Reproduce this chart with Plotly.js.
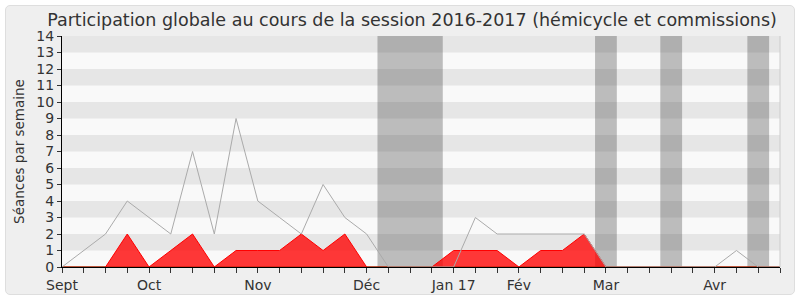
<!DOCTYPE html>
<html>
<head>
<meta charset="utf-8">
<script src="https://cdn.plot.ly/plotly-3.0.1.min.js"></script>
<style>
  html, body { margin: 0; padding: 0; background: #ffffff; }
  #frame {
    position: absolute; left: 5px; top: 5px;
    width: 788px; height: 288px;
    border: 1px solid #dedede; border-radius: 5px;
    background: #efefef; overflow: hidden;
  }
  #chart { width: 788px; height: 288px; }
</style>
</head>
<body>
<div id="frame"><div id="chart"></div></div>
<script>
// Week index along the session (weekly points)
const weeks = [0,1,2,3,4,5,6,7,8,9,10,11,12,13,14,15,16,17,18,19,20,21,22,23,24,25,26,27,28,29,30,31,32,33];
// Gray line: overall activity per week
const totalSeances = [0,1,2,4,3,2,7,2,9,4,3,2,5,3,2,0,0,0,0,3,2,2,2,2,2,0,0,0,0,0,0,1,0,0];
// Red area: deputy participation per week
const participation = [0,0,0,2,0,1,2,0,1,1,1,2,1,2,0,0,0,0,1,1,1,0,1,1,2,0,0,0,0,0,0,0,0,0];
// Green line: hemicycle (all zero)
const hemicycle = [0,0,0,0,0,0,0,0,0,0,0,0,0,0,0,0,0,0,0,0,0,0,0,0,0,0,0,0,0,0,0,0,0,0];
// Month labels at week ticks
const monthWeeks = [0, 4, 9, 14, 18, 21, 25, 30];
const monthLabels = ['Sept', 'Oct', 'Nov', 'Déc', 'Jan 17', 'Fév', 'Mar', 'Avr'];
// Parliamentary recess periods (in week units)
const vacStart = [14.5, 24.5, 27.5, 31.5];
const vacEnd = [17.5, 25.5, 28.5, 32.5];
// Y axis values
const yTicks = [0,1,2,3,4,5,6,7,8,9,10,11,12,13,14];

const tickText = weeks.map(w => {
  const k = monthWeeks.indexOf(w);
  return k >= 0 ? monthLabels[k] : '';
});

const shapes = [];
// horizontal stripes
for (let v = 1; v < 14; v += 2) {
  shapes.push({type: 'rect', xref: 'paper', yref: 'y', x0: 0, x1: 1, y0: v, y1: v + 1,
    fillcolor: '#e6e6e6', line: {width: 0}, layer: 'below'});
}
// recess bands
for (let i = 0; i < vacStart.length; i++) {
  shapes.push({type: 'rect', xref: 'x', yref: 'paper', x0: vacStart[i], x1: vacEnd[i], y0: 0, y1: 1,
    fillcolor: 'rgba(60,60,60,0.32)', line: {width: 0}, layer: 'below'});
}
// right border
shapes.push({type: 'line', xref: 'paper', yref: 'paper', x0: 1, x1: 1, y0: 0, y1: 1,
  line: {color: '#cccccc', width: 1}});

const traces = [
  {x: weeks, y: hemicycle, type: 'scatter', mode: 'lines',
   line: {color: '#006400', width: 1}, hoverinfo: 'skip'},
  {x: weeks, y: participation, type: 'scatter', mode: 'lines', fill: 'tozeroy',
   fillcolor: 'rgba(255,0,0,0.78)', line: {color: '#ff0000', width: 1}, hoverinfo: 'skip'},
  {x: weeks, y: totalSeances, type: 'scatter', mode: 'lines',
   line: {color: '#aaaaaa', width: 1}, hoverinfo: 'skip'}
];

const font = 'DejaVu Sans, sans-serif';
const layout = {
  width: 788, height: 288,
  margin: {l: 56, r: 14, t: 30, b: 27},
  paper_bgcolor: 'rgba(0,0,0,0)',
  plot_bgcolor: '#f9f9f9',
  showlegend: false,
  font: {family: font, color: '#333333', size: 13},
  title: {text: 'Participation globale au cours de la session 2016-2017 (hémicycle et commissions)',
    font: {family: font, size: 17.5, color: '#333333'},
    xref: 'paper', x: 0.4875, xanchor: 'center',
    yref: 'container', y: 0.951, yanchor: 'middle'},
  xaxis: {range: [0, 33], tickmode: 'array', tickvals: weeks, ticktext: tickText,
    ticks: 'outside', ticklen: 5, tickcolor: '#333', showgrid: false, zeroline: false,
    showline: true, linecolor: '#000', linewidth: 1,
    tickfont: {family: font, size: 14, color: '#333'}, fixedrange: true},
  xaxis2: {range: [0, 33], overlaying: 'x', side: 'top', anchor: 'y', tickmode: 'array',
    tickvals: weeks, ticks: 'outside', ticklen: 2, tickcolor: '#333', showticklabels: false,
    showgrid: false, zeroline: false, showline: false},
  yaxis: {range: [0, 14], tickmode: 'array', tickvals: yTicks, ticks: 'outside', ticklen: 4,
    tickcolor: '#333', showgrid: false, zeroline: false, showline: true, linecolor: '#000',
    linewidth: 1, tickfont: {family: font, size: 14, color: '#333'},
    title: {text: 'Séances par semaine', font: {family: font, size: 13.5, color: '#333'}, standoff: 8},
    fixedrange: true},
  shapes: shapes
};

Plotly.newPlot('chart', traces, layout, {staticPlot: true, displayModeBar: false});
</script>
</body>
</html>
